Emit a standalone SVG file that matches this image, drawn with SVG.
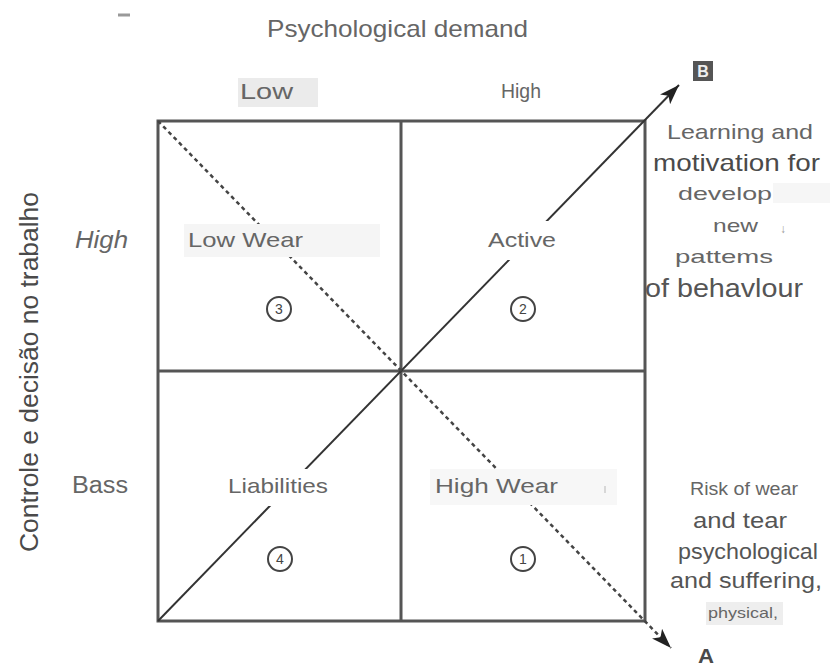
<svg xmlns="http://www.w3.org/2000/svg" width="840" height="666" viewBox="0 0 840 666">
<style>
text{font-family:"Liberation Sans",Arial,sans-serif;fill:#666}
.grid{fill:none;stroke:#555;stroke-width:3}
.solid{stroke:#333;stroke-width:2;fill:none}
.dash{stroke:#444;stroke-width:2.5;stroke-dasharray:4 3.5;fill:none}
.num{fill:none;stroke:#444;stroke-width:2}
.numt{font-size:14px;fill:#444;text-anchor:middle}
.dk{fill:#4a4a4a}
</style>
<defs>
<marker id="ah" markerUnits="userSpaceOnUse" markerWidth="20" markerHeight="14" viewBox="0 0 20 14" refX="20" refY="7" orient="auto">
<path d="M0,0 L20,7 L0,14 L5,7 z" fill="#222"/>
</marker>
</defs>
<line x1="118" y1="15" x2="130" y2="15" stroke="#999" stroke-width="3"/>
<g id="grid">
<rect class="grid" x="158" y="121" width="487" height="500"/>
<line class="grid" x1="401" y1="121" x2="401" y2="621"/>
<line class="grid" x1="158" y1="371" x2="645" y2="371"/>
</g>
<g id="connectors">
<line class="solid" x1="158" y1="621" x2="679" y2="85" marker-end="url(#ah)"/>
<line class="dash" x1="158" y1="121" x2="671" y2="648" marker-end="url(#ah)"/>
</g>
<g id="axis-labels">
<text x="267" y="37" font-size="24" textLength="261" lengthAdjust="spacingAndGlyphs">Psychological demand</text>
<rect x="238" y="78" width="80" height="29" fill="#ebebeb"/>
<text x="240" y="99" font-size="22" textLength="53" lengthAdjust="spacingAndGlyphs">Low</text>
<text x="501" y="98" font-size="21" textLength="40" lengthAdjust="spacingAndGlyphs">High</text>
<text x="75" y="248" font-size="23" font-style="italic" textLength="53" lengthAdjust="spacingAndGlyphs">High</text>
<text x="72" y="493" font-size="23" textLength="56" lengthAdjust="spacingAndGlyphs">Bass</text>
<text transform="translate(38,372) rotate(-90)" font-size="26" text-anchor="middle" class="dk" textLength="360" lengthAdjust="spacingAndGlyphs">Controle e decisão no trabalho</text>
</g>
<g id="q3">
<rect x="184" y="224" width="196" height="33" fill="#f5f5f5"/>
<text x="188" y="247" font-size="21" textLength="115" lengthAdjust="spacingAndGlyphs">Low Wear</text>
<circle class="num" cx="279" cy="309" r="12"/>
<text class="numt" x="279" y="314">3</text>
</g>
<g id="q2">
<rect x="484" y="221" width="76" height="39" fill="#fff"/>
<text x="488" y="247" font-size="21" textLength="68" lengthAdjust="spacingAndGlyphs">Active</text>
<circle class="num" cx="523" cy="309" r="12"/>
<text class="numt" x="523" y="314">2</text>
</g>
<g id="q4">
<rect x="224" y="469" width="108" height="37" fill="#fff"/>
<text x="228" y="493" font-size="21" textLength="100" lengthAdjust="spacingAndGlyphs">Liabilities</text>
<circle class="num" cx="280" cy="559" r="12"/>
<text class="numt" x="280" y="564">4</text>
</g>
<g id="q1">
<rect x="430" y="469" width="187" height="36" fill="#f7f7f7"/>
<text x="435" y="493" font-size="21" textLength="123" lengthAdjust="spacingAndGlyphs">High Wear</text>
<line x1="605" y1="486" x2="605" y2="493" stroke="#ccc" stroke-width="1.5"/>
<circle class="num" cx="523" cy="559" r="12"/>
<text class="numt" x="523" y="564">1</text>
</g>
<g id="B">
<rect x="693" y="61" width="20" height="20" fill="#555"/>
<text x="703" y="77" font-size="16" font-weight="bold" text-anchor="middle" style="fill:#eee">B</text>
</g>
<g id="A">
<text x="698" y="663" font-size="20" font-weight="bold" class="dk" textLength="16" lengthAdjust="spacingAndGlyphs">A</text>
</g>
<g id="outcome-B">
<text x="667" y="139" font-size="21" textLength="146" lengthAdjust="spacingAndGlyphs">Learning and</text>
<text x="653" y="171" font-size="24" class="dk" textLength="167" lengthAdjust="spacingAndGlyphs">motivation for</text>
<rect x="773" y="183" width="57" height="20" fill="#f6f6f6"/>
<text x="678" y="200" font-size="19" textLength="94" lengthAdjust="spacingAndGlyphs">develop</text>
<text x="713" y="232" font-size="19" textLength="45" lengthAdjust="spacingAndGlyphs">new</text>
<text x="780" y="233" font-size="12" style="fill:#999">↓</text>
<text x="675" y="263" font-size="19" textLength="98" lengthAdjust="spacingAndGlyphs">pattems</text>
<text x="645" y="297" font-size="25" style="fill:#555" textLength="158" lengthAdjust="spacingAndGlyphs">of behavlour</text>
</g>
<g id="outcome-A">
<text x="690" y="495" font-size="18" textLength="108" lengthAdjust="spacingAndGlyphs">Risk of wear</text>
<text x="693" y="528" font-size="22" style="fill:#555" textLength="94" lengthAdjust="spacingAndGlyphs">and tear</text>
<text x="678" y="559" font-size="22" style="fill:#555" textLength="140" lengthAdjust="spacingAndGlyphs">psychological</text>
<text x="670" y="588" font-size="22" style="fill:#555" textLength="152" lengthAdjust="spacingAndGlyphs">and suffering,</text>
<rect x="706" y="602" width="77" height="23" fill="#eeeeee"/>
<text x="708" y="618" font-size="15" textLength="70" lengthAdjust="spacingAndGlyphs">physical,</text>
</g>
</svg>
